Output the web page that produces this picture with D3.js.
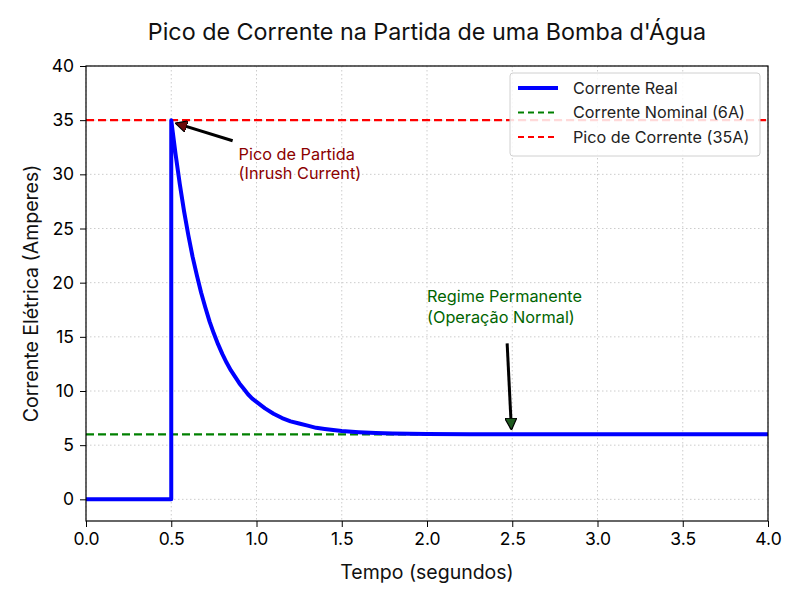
<!DOCTYPE html>
<html>
<head>
<meta charset="utf-8">
<script src="https://cdn.jsdelivr.net/npm/d3@7"></script>
<style>
  body { margin: 0; background: #fff; }
  text { font-family: Inter, Roboto, "Open Sans", sans-serif; }
</style>
</head>
<body>
<div id="chart"></div>
<script>
// Datos
const tiempo = [0, 0.5, 0.5, 0.525, 0.55, 0.575, 0.6, 0.625, 0.65, 0.675, 0.7, 0.725, 0.75, 0.775, 0.8, 0.825, 0.85, 0.875, 0.9, 0.925, 0.95, 0.975, 1.0,
  1.05, 1.1, 1.15, 1.2, 1.25, 1.3, 1.35, 1.4, 1.45, 1.5, 1.6, 1.7, 1.8, 1.9, 2.0, 2.25, 2.5, 3.0, 3.5, 4.0];
const corriente = [0, 0, 35, 31.9, 29.1, 26.6, 24.4, 22.4, 20.7, 19.1, 17.7, 16.4, 15.3, 14.3, 13.4, 12.6, 11.9, 11.3, 10.7, 10.2, 9.7, 9.3, 9.0,
  8.4, 7.9, 7.5, 7.2, 7.0, 6.8, 6.6, 6.5, 6.4, 6.3, 6.2, 6.13, 6.08, 6.05, 6.03, 6.01, 6.0, 6.0, 6.0, 6.0];
const corrienteNominal = 6;
const picoCorriente = 35;
const xTicks = [0, 0.5, 1, 1.5, 2, 2.5, 3, 3.5, 4];
const yTicks = [0, 5, 10, 15, 20, 25, 30, 35, 40];
const leyenda = ["Corrente Real", "Corrente Nominal (6A)", "Pico de Corrente (35A)"];

const margin = {top: 66, right: 34, bottom: 80, left: 86},
    width = 802 - margin.left - margin.right,
    height = 601 - margin.top - margin.bottom;

const x = d3.scaleLinear().domain([0, 4]).range([0, width]);
const y = d3.scaleLinear().domain([-2, 40]).range([height, 0]);

const root = d3.select("#chart").append("svg")
  .attr("width", 802)
  .attr("height", 601);

const svg = root.append("g")
  .attr("transform", `translate(${margin.left},${margin.top})`);

// Rejilla
svg.append("g").selectAll("line").data(xTicks).join("line")
  .attr("x1", d => x(d)).attr("x2", d => x(d))
  .attr("y1", 0).attr("y2", height)
  .attr("stroke", "#cccccc").attr("stroke-width", 1).attr("stroke-dasharray", "1.5,2.5");
svg.append("g").selectAll("line").data(yTicks).join("line")
  .attr("x1", 0).attr("x2", width)
  .attr("y1", d => y(d)).attr("y2", d => y(d))
  .attr("stroke", "#cccccc").attr("stroke-width", 1).attr("stroke-dasharray", "1.5,2.5");

// Líneas de referencia
svg.append("line")
  .attr("x1", 0).attr("x2", width)
  .attr("y1", y(picoCorriente)).attr("y2", y(picoCorriente))
  .attr("stroke", "#ff0000").attr("stroke-width", 2.2).attr("stroke-dasharray", "8,4");
svg.append("line")
  .attr("x1", 0).attr("x2", width)
  .attr("y1", y(corrienteNominal)).attr("y2", y(corrienteNominal))
  .attr("stroke", "#008000").attr("stroke-width", 2.2).attr("stroke-dasharray", "8,4");

// Curva real
const datos = tiempo.map((t, i) => ({t, v: corriente[i]}));
const line = d3.line().x(d => x(d.t)).y(d => y(d.v));
svg.append("path")
  .datum(datos)
  .attr("fill", "none")
  .attr("stroke", "#0000ff")
  .attr("stroke-width", 4)
  .attr("stroke-linejoin", "round")
  .attr("d", line);

// Ejes
const ax = svg.append("g")
  .attr("transform", `translate(0,${height})`)
  .call(d3.axisBottom(x).tickValues(xTicks).tickFormat(d3.format(".1f")).tickSizeOuter(0).tickSize(6).tickPadding(6));
const ay = svg.append("g")
  .call(d3.axisLeft(y).tickValues(yTicks).tickSizeOuter(0).tickSize(6).tickPadding(6));
[ax, ay].forEach(a => {
  a.select(".domain").remove();
  a.selectAll("line").attr("stroke", "#000").attr("stroke-width", 1);
  a.selectAll("text").attr("font-size", 17.5).attr("fill", "#000")
    .style("font-family", "Inter, Roboto, sans-serif");
});

// Marco
svg.append("rect")
  .attr("width", width).attr("height", height)
  .attr("fill", "none").attr("stroke", "#000").attr("stroke-width", 1.2);

// Flechas
const defs = root.append("defs");
function marcador(id, color) {
  defs.append("marker")
    .attr("id", id)
    .attr("viewBox", "0 0 10 10")
    .attr("refX", 9).attr("refY", 5)
    .attr("markerWidth", 4).attr("markerHeight", 4)
    .attr("markerUnits", "strokeWidth")
    .attr("orient", "auto")
    .append("path")
    .attr("d", "M0,0 L10,5 L0,10 Z")
    .attr("fill", color)
    .attr("stroke", "#000")
    .attr("stroke-width", 1);
}
marcador("flechaRoja", "#6b0a0a");
marcador("flechaVerde", "#1e5a1e");

svg.append("line")
  .attr("x1", x(0.86)).attr("y1", y(33.1))
  .attr("x2", x(0.53)).attr("y2", y(34.7))
  .attr("stroke", "#000").attr("stroke-width", 3)
  .attr("marker-end", "url(#flechaRoja)");
svg.append("line")
  .attr("x1", x(2.47)).attr("y1", y(14.4))
  .attr("x2", x(2.495)).attr("y2", y(6.5))
  .attr("stroke", "#000").attr("stroke-width", 3)
  .attr("marker-end", "url(#flechaVerde)");

// Anotaciones
const anot1 = svg.append("text")
  .attr("x", x(0.895)).attr("y", y(31.3))
  .attr("fill", "#8b0000").attr("font-size", 16.3);
anot1.append("tspan").text("Pico de Partida");
anot1.append("tspan").attr("x", x(0.895)).attr("dy", 19).text("(Inrush Current)");

const anot2 = svg.append("text")
  .attr("x", x(2.0)).attr("y", y(18.2))
  .attr("fill", "#006400").attr("font-size", 16.3);
anot2.append("tspan").attr("x", x(2.0)).text("Regime Permanente");
anot2.append("tspan").attr("x", x(2.0)).attr("dy", 21).text("(Operação Normal)");

// Leyenda
const leg = svg.append("g").attr("transform", `translate(${width - 258},7)`);
leg.append("rect")
  .attr("width", 250).attr("height", 83).attr("rx", 3)
  .attr("fill", "#fff").attr("fill-opacity", 0.85)
  .attr("stroke", "#d0d0d0");
const estilos = [
  {color: "#0000ff", dash: null, w: 4},
  {color: "#008000", dash: "6,4", w: 2.2},
  {color: "#ff0000", dash: "6,4", w: 2.2}
];
leyenda.forEach((nombre, i) => {
  const yy = 15 + i * 24.5;
  leg.append("line")
    .attr("x1", 8).attr("x2", 48).attr("y1", yy).attr("y2", yy)
    .attr("stroke", estilos[i].color).attr("stroke-width", estilos[i].w)
    .attr("stroke-dasharray", estilos[i].dash);
  leg.append("text")
    .attr("x", 63).attr("y", yy + 5.5)
    .attr("font-size", 16.2).attr("fill", "#222")
    .text(nombre);
});

// Títulos
root.append("text")
  .attr("x", margin.left + width / 2).attr("y", 40)
  .attr("text-anchor", "middle").attr("font-size", 23.3).attr("fill", "#111")
  .text("Pico de Corrente na Partida de uma Bomba d'Água");
root.append("text")
  .attr("x", margin.left + width / 2).attr("y", 579)
  .attr("text-anchor", "middle").attr("font-size", 19.5).attr("fill", "#111")
  .text("Tempo (segundos)");
root.append("text")
  .attr("transform", `translate(38,${margin.top + height / 2}) rotate(-90)`)
  .attr("text-anchor", "middle").attr("font-size", 19.5).attr("fill", "#111")
  .text("Corrente Elétrica (Amperes)");
</script>
</body>
</html>
